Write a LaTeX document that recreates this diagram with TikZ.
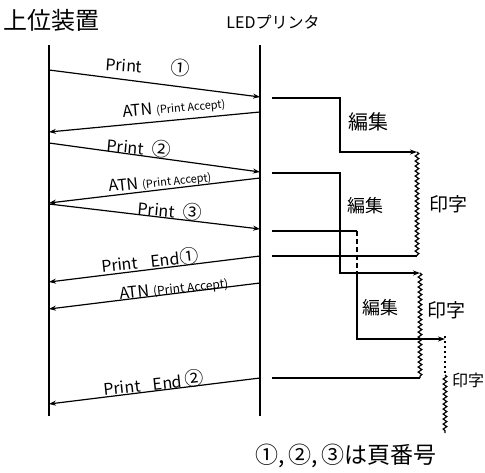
\documentclass[tikz,border=0pt]{standalone}
\usepackage{fontspec}
\setmainfont{Noto Sans CJK JP}
\usetikzlibrary{arrows.meta,decorations.pathmorphing}
\newcommand{\circnum}[1]{{\fontsize{19}{19}\selectfont #1}}
\tikzset{
  life/.style={line width=1.4pt},
  msg/.style={line width=1.2pt,-{Stealth[length=7pt,width=5pt]}},
  flow/.style={line width=1.2pt},
  flowarr/.style={line width=1.2pt,-{Stealth[length=7pt,width=5pt]}},
  wave/.style={line width=1.2pt,decorate,decoration={snake,amplitude=1.8pt,segment length=5pt}},
  lbl/.style={inner sep=0pt,font=\fontsize{16}{16}\selectfont},
  jlbl/.style={inner sep=0pt,font=\fontsize{20}{20}\selectfont},
}
\begin{document}
\begin{tikzpicture}[x=1pt,y=-1pt]
\useasboundingbox[fill=white] (0,0) rectangle (485,473);
% titles
\node[inner sep=0pt,font=\fontsize{24}{24}\selectfont] (host) at (52,20) {上位装置};
\node[inner sep=0pt,font=\fontsize{16}{16}\selectfont] (prn) at (273,22) {LEDプリンタ};
% lifelines
\coordinate (Ltop) at (49,45); \coordinate (Lbot) at (49,416);
\coordinate (Rtop) at (260,45); \coordinate (Rbot) at (260,416);
\draw[life] (Ltop) -- (Lbot);
\draw[life] (Rtop) -- (Rbot);
% message endpoints
\coordinate (a1) at (49,70);  \coordinate (b1) at (260,97);
\coordinate (b2) at (260,112); \coordinate (a2) at (49,132);
\coordinate (a3) at (49,143); \coordinate (b3) at (260,172);
\coordinate (b4) at (260,178); \coordinate (a4) at (49,203);
\coordinate (a5) at (49,204); \coordinate (b5) at (260,229);
\coordinate (b6) at (260,256); \coordinate (a6) at (49,282);
\coordinate (b7) at (260,283); \coordinate (a7) at (49,309);
\coordinate (b8) at (260,378); \coordinate (a8) at (49,404);
\draw[msg] (a1) -- (b1);
\draw[msg] (b2) -- (a2);
\draw[msg] (a3) -- (b3);
\draw[msg] (b4) -- (a4);
\draw[msg] (a5) -- (b5);
\draw[msg] (b6) -- (a6);
\draw[msg] (b7) -- (a7);
\draw[msg] (b8) -- (a8);
% message labels
\node[lbl,rotate=-4] (m1) at (148,66) {Print\hspace{1.8em}\circnum{①}};
\node[lbl,rotate=5] (m2) at (174,108) {ATN {\fontsize{11}{11}\selectfont (Print Accept)}};
\node[lbl,rotate=-5] (m3) at (139,147) {Print\hspace{0.5em}\circnum{②}};
\node[lbl,rotate=6] (m4) at (160,182) {ATN {\fontsize{11}{11}\selectfont (Print Accept)}};
\node[lbl,rotate=-5] (m5) at (170,210) {Print\hspace{0.5em}\circnum{③}};
\node[lbl,rotate=6] (m6) at (150,260) {Print\hspace{0.8em}End\circnum{①}};
\node[lbl,rotate=6] (m7) at (174,289) {ATN {\fontsize{12}{12}\selectfont (Print Accept)}};
\node[lbl,rotate=6] (m8) at (154,383) {Print\hspace{0.8em}End\hspace{0.2em}\circnum{②}};
% printer-side flows
\coordinate (s1) at (272,98);  \coordinate (c1) at (340,98);  \coordinate (d1) at (340,152); \coordinate (p1) at (417,152);
\coordinate (q1) at (417,256); \coordinate (e1) at (272,256);
\coordinate (s2) at (272,173); \coordinate (c2) at (340,173); \coordinate (d2) at (340,273); \coordinate (p2) at (420,273);
\coordinate (q2) at (420,378); \coordinate (e2) at (272,378);
\coordinate (s3) at (272,231); \coordinate (c3) at (357,231); \coordinate (h3) at (357,274); \coordinate (d3) at (357,339); \coordinate (p3) at (445,339);
\coordinate (t3) at (445,375); \coordinate (q3) at (445,433);
\draw[flowarr] (s1) -- (c1) -- (d1) -- (p1);
\draw[wave] (p1) -- (q1);
\draw[flow] (q1) -- (e1);
\draw[flowarr] (s2) -- (c2) -- (d2) -- (p2);
\draw[wave] (p2) -- (q2);
\draw[flow] (q2) -- (e2);
\draw[flow] (s3) -- (c3);
\draw[flow,dashed,dash pattern=on 5pt off 3pt] (c3) -- (h3);
\draw[flowarr] (h3) -- (d3) -- (p3);
\draw[line width=2pt,dash pattern=on 2pt off 3pt] ([yshift=3pt]p3) -- (t3);
\draw[wave] (t3) -- (q3);
% Japanese labels
\node[jlbl] (ed1) at (368,122) {編集};
\node[jlbl,font=\fontsize{18}{18}\selectfont] (ed2) at (365,206) {編集};
\node[jlbl,font=\fontsize{18}{18}\selectfont] (ed3) at (380,308) {編集};
\node[jlbl,font=\fontsize{19}{19}\selectfont] (pr1) at (448,204) {印字};
\node[jlbl,font=\fontsize{19}{19}\selectfont] (pr2) at (446,310) {印字};
\node[jlbl,font=\fontsize{16}{16}\selectfont] (pr3) at (468,380) {印字};
% footnote
\node[inner sep=0pt,font=\fontsize{23}{23}\selectfont] (note) at (346,456) {①,\,②,\,③は頁番号};
\end{tikzpicture}
\end{document}
